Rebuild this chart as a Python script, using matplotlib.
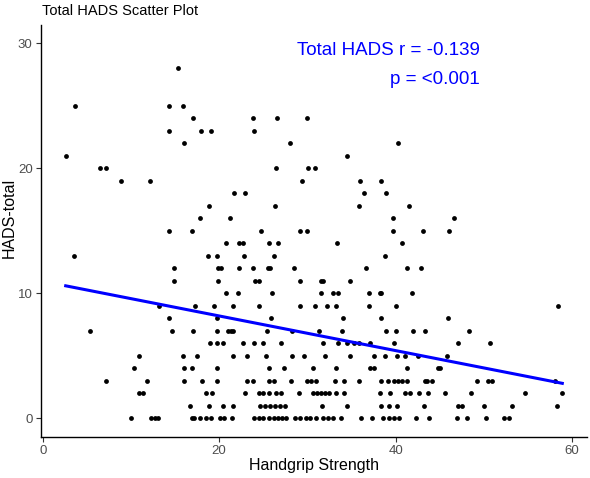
import numpy as np
import matplotlib
matplotlib.use("Agg")
import matplotlib.pyplot as plt

plt.rcParams['font.family'] = ['Liberation Sans', 'DejaVu Sans']

# handgrip strength values, grouped by HADS-total score
hads_0 = [10.0, 12.3, 12.7, 13.1, 16.9, 17.2, 17.8, 18.5, 19.1, 20.1, 20.5, 21.4,
          24.0, 24.5, 25.0, 25.7, 26.2, 26.7, 27.1, 27.6, 28.6, 29.2, 29.8, 30.3,
          31.0, 31.8, 32.3, 32.9, 33.8, 36.1, 37.3, 38.6, 39.3, 39.8, 40.4, 42.3,
          43.8, 47.0, 48.1, 50.3, 52.3, 52.9]
hads_1 = [16.7, 18.9, 20.4, 21.6, 24.6, 25.2, 25.8, 26.3, 26.9, 27.5, 31.7, 34.5,
          38.4, 39.2, 40.2, 43.2, 47.1, 47.5, 50.0, 53.2, 58.3]
hads_2 = [10.9, 11.4, 18.5, 19.2, 22.9, 24.5, 25.0, 25.7, 26.4, 27.0, 29.0, 30.6,
          31.1, 31.5, 32.0, 32.4, 33.3, 34.2, 38.2, 39.4, 41.1, 41.6, 42.7, 43.7,
          45.6, 48.5, 54.7, 58.9]
hads_3 = [7.2, 11.8, 16.0, 18.1, 19.8, 23.2, 23.8, 25.7, 26.2, 28.1, 29.9, 30.4,
          31.0, 33.1, 34.1, 35.9, 38.3, 39.1, 39.8, 40.3, 40.7, 41.3, 43.3, 43.6,
          44.1, 49.2, 50.5, 50.9, 58.1]
hads_4 = [10.3, 16.0, 16.9, 19.7, 25.7, 27.4, 30.6, 33.3, 37.1, 37.5, 41.3, 44.8, 45.0]
hads_5 = [10.9, 15.9, 17.5, 21.6, 23.2, 25.3, 28.2, 29.6, 32.0, 34.8, 37.6, 38.8,
          40.2, 41.1, 42.5, 45.8]
hads_6 = [19.0, 19.8, 20.4, 22.7, 24.0, 25.0, 27.0, 31.8, 33.5, 34.5, 35.3, 35.9,
          37.1, 39.8, 47.1, 50.7]
hads_7 = [5.4, 14.6, 17.0, 19.8, 21.0, 21.3, 21.6, 25.4, 28.2, 31.3, 33.9, 38.9,
          40.1, 42.0, 43.3, 48.3]
hads_8 = [14.3, 19.7, 25.9, 34.0, 38.4, 45.9]
hads_9 = [13.2, 17.3, 19.4, 21.6, 24.5, 29.2, 30.9, 32.2, 33.2, 37.0, 40.1, 58.4]
hads_10 = [20.8, 22.1, 26.0, 31.5, 32.9, 33.5, 37.0, 38.2, 38.4, 41.9]
hads_11 = [14.9, 19.9, 24.1, 24.5, 29.2, 31.6, 31.8, 34.8]
hads_12 = [14.9, 19.9, 20.2, 22.3, 23.8, 25.5, 25.8, 28.5, 36.7, 41.3, 42.9]
hads_13 = [3.5, 18.7, 19.7, 22.8, 26.2, 38.8]
hads_14 = [20.8, 22.3, 22.7, 25.7, 26.7, 33.4, 40.7]
hads_15 = [14.3, 16.9, 24.7, 29.2, 30.0, 39.7, 43.1, 46.0]
hads_16 = [17.8, 21.2, 39.7, 46.6]
hads_17 = [18.8, 26.3, 35.8, 41.5]
hads_18 = [21.7, 22.9, 36.4, 38.9]
hads_19 = [8.9, 12.2, 29.4, 36.0, 38.4]
hads_20 = [6.5, 7.2, 26.4, 30.1, 30.9]
hads_21 = [2.6, 34.5]
hads_22 = [16.0, 28.0, 40.3]
hads_23 = [14.3, 17.9, 19.1, 24.0]
hads_24 = [17.0, 23.8, 26.6, 30.0]
hads_25 = [3.6, 14.3, 15.9]
hads_28 = [15.3]

# regression line ends as drawn in the reference
fit_x = [2.6, 58.9]
fit_y = [10.6, 2.8]

r_text = "Total HADS r = -0.139"
p_text = "p = <0.001"

rows = {0: hads_0, 1: hads_1, 2: hads_2, 3: hads_3, 4: hads_4, 5: hads_5,
        6: hads_6, 7: hads_7, 8: hads_8, 9: hads_9, 10: hads_10, 11: hads_11,
        12: hads_12, 13: hads_13, 14: hads_14, 15: hads_15, 16: hads_16,
        17: hads_17, 18: hads_18, 19: hads_19, 20: hads_20, 21: hads_21,
        22: hads_22, 23: hads_23, 24: hads_24, 25: hads_25, 28: hads_28}

x = np.concatenate([np.array(v) for v in rows.values()])
y = np.concatenate([np.full(len(v), k, dtype=float) for k, v in rows.items()])

fig = plt.figure(figsize=(5.9, 4.78), dpi=100)
ax = fig.add_axes([41 / 590, 40.9 / 478, 546 / 590, 412.6 / 478])

ax.scatter(x, y, s=12, color='black', linewidths=0, zorder=2)
ax.plot(fit_x, fit_y, color='#0000FF', lw=2.2, zorder=3)

ax.text(49.5, 29.4, r_text, color='#0000FF', fontsize=13.5, ha='right', va='center')
ax.text(49.5, 27.1, p_text, color='#0000FF', fontsize=13.5, ha='right', va='center')

ax.set_xlim(-0.2, 61.7)
ax.set_ylim(-1.5, 31.5)
ax.set_xticks([0, 20, 40, 60])
ax.set_yticks([0, 10, 20, 30])
ax.tick_params(axis='both', labelsize=9.5, labelcolor='#4D4D4D', color='#333333',
               length=3.5, width=0.8, pad=2.5)

for side in ['top', 'right']:
    ax.spines[side].set_visible(False)
for side in ['left', 'bottom']:
    ax.spines[side].set_linewidth(1.0)
    ax.spines[side].set_color('black')

ax.set_xlabel("Handgrip Strength", fontsize=11.5)
ax.set_ylabel("HADS-total", fontsize=11.5)
ax.yaxis.set_label_coords(-0.044, 0.53)
ax.xaxis.set_label_coords(0.5, -0.05)

fig.text(41.5 / 590, 1 - 15 / 478, "Total HADS Scatter Plot", fontsize=10.5, ha='left', va='baseline')

fig.savefig("out.png", dpi=100)
